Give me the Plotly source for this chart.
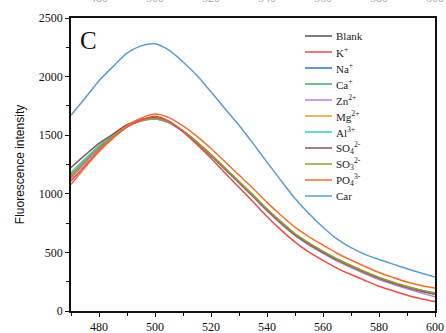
import plotly.graph_objects as go

wavelength = list(range(470, 601, 5))

blank = [1170,1290,1405,1495,1580,1628,1645,1612,1535,1440,1330,1215,1100,985,865,755,655,575,505,440,385,332,283,240,205,175,150]
k_ion = [1110,1240,1370,1475,1570,1630,1662,1620,1530,1420,1303,1178,1055,932,807,692,588,503,432,366,311,260,211,173,135,105,80]
na_ion = [1150,1280,1398,1490,1578,1625,1640,1608,1532,1436,1328,1213,1098,982,862,752,653,573,503,438,383,330,281,240,203,172,148]
ca_ion = [1140,1270,1392,1486,1575,1622,1640,1610,1535,1440,1333,1218,1102,987,867,757,656,576,505,440,384,331,282,240,203,170,142]
zn_ion = [1130,1262,1385,1482,1572,1620,1638,1606,1530,1433,1324,1208,1092,975,854,743,643,562,492,426,371,318,269,228,190,155,122]
mg_ion = [1160,1285,1402,1494,1580,1628,1645,1614,1538,1442,1334,1219,1104,989,870,760,660,580,510,444,389,336,287,246,210,178,155]
al_ion = [1180,1298,1410,1498,1582,1628,1644,1610,1533,1436,1328,1213,1098,983,863,753,653,573,503,438,383,330,281,241,205,174,150]
so4_ion = [1225,1330,1430,1510,1590,1632,1648,1612,1535,1437,1328,1213,1098,982,862,751,651,571,501,436,381,328,279,239,202,171,146]
so3_ion = [1145,1275,1395,1490,1577,1625,1642,1612,1537,1441,1334,1219,1104,989,870,760,659,579,509,444,388,335,286,246,209,178,153]
po4_ion = [1080,1225,1360,1475,1580,1645,1680,1650,1580,1490,1386,1273,1160,1047,927,817,715,633,562,493,435,380,329,287,248,218,196]
car = [1670,1815,1965,2085,2200,2262,2280,2225,2125,2010,1870,1725,1585,1430,1270,1112,960,830,715,615,540,483,440,400,360,325,290]

names = ["Blank", "K<sup>+</sup>", "Na<sup>+</sup>", "Ca<sup>+</sup>", "Zn<sup>2+</sup>", "Mg<sup>2+</sup>",
         "Al<sup>3+</sup>", "SO<sub>4</sub><sup>2-</sup>", "SO<sub>3</sub><sup>2-</sup>",
         "PO<sub>4</sub><sup>3-</sup>", "Car"]
series = [blank, k_ion, na_ion, ca_ion, zn_ion, mg_ion, al_ion, so4_ion, so3_ion, po4_ion, car]
colors = ["#505050", "#f04848", "#2f6fd0", "#45a96c", "#b383e0", "#e0a22e",
          "#35cccc", "#845656", "#989a30", "#f36e2e", "#5b9bd5"]

x_ticks = [480, 500, 520, 540, 560, 580, 600]

fig = go.Figure()
order = [0, 2, 3, 4, 5, 6, 7, 8, 1, 9, 10]
for i in order:
    fig.add_trace(go.Scatter(x=wavelength, y=series[i], mode="lines", name=names[i],
                             line=dict(color=colors[i], width=1.5, shape="spline", smoothing=0.7),
                             showlegend=False))

W, H = 446, 333
ml, mr, mt, mb = 71, 11, 18, 22
pw, ph = W - ml - mr, H - mt - mb

def px_to_paper(px, py):
    return (px - ml) / pw, (H - mb - py) / ph

shapes = []
annotations = []
for i, nm in enumerate(names):
    ypx = 36 + 16.0 * i
    x0, y0 = px_to_paper(305, ypx)
    x1, _ = px_to_paper(332, ypx)
    shapes.append(dict(type="line", xref="paper", yref="paper", x0=x0, x1=x1, y0=y0, y1=y0,
                       line=dict(color=colors[i], width=1.5)))
    tx, ty = px_to_paper(334, ypx)
    annotations.append(dict(text=nm, xref="paper", yref="paper", x=tx, y=ty, xanchor="left",
                            yanchor="middle", showarrow=False,
                            font=dict(family="Liberation Serif", size=11, color="#222")))

cx, cy = px_to_paper(88, 41)
annotations.append(dict(text="C", xref="paper", yref="paper", x=cx, y=cy, xanchor="center",
                        yanchor="middle", showarrow=False,
                        font=dict(family="Liberation Serif", size=25, color="#111")))

# faint tick labels of the panel above (cut off at the top edge, as in the source)
for t in x_ticks:
    annotations.append(dict(text=str(t), xref="x", yref="paper", x=t, y=1, yshift=11,
                            xanchor="center", yanchor="bottom", showarrow=False,
                            font=dict(family="Liberation Serif", size=12, color="#aaa")))

fig.update_layout(
    width=W, height=H,
    margin=dict(l=ml, r=mr, t=mt, b=mb, autoexpand=False),
    paper_bgcolor="white", plot_bgcolor="white",
    shapes=shapes, annotations=annotations,
    xaxis=dict(range=[470, 600], tickvals=x_ticks, showgrid=False, zeroline=False,
               automargin=False,
               showline=True, linecolor="#111", linewidth=1.5, mirror=True,
               ticks="outside", ticklen=4, tickwidth=1.2, tickcolor="#111",
               minor=dict(tickvals=[470, 490, 510, 530, 550, 570, 590], ticks="outside",
                          ticklen=3, tickwidth=1, tickcolor="#111"),
               tickfont=dict(family="Liberation Serif", size=12, color="#111")),
    yaxis=dict(range=[0, 2500], tickvals=[0, 500, 1000, 1500, 2000, 2500], showgrid=False,
               zeroline=False, showline=True, linecolor="#111", linewidth=1.5, mirror=True,
               automargin=False,
               ticks="outside", ticklen=4, tickwidth=1.2, tickcolor="#111",
               minor=dict(tickvals=[250, 750, 1250, 1750, 2250], ticks="outside",
                          ticklen=3, tickwidth=1, tickcolor="#111"),
               tickfont=dict(family="Liberation Serif", size=12, color="#111"),
               title=dict(text="Fluorescence intensity", standoff=12,
                          font=dict(family="Liberation Sans", size=12, color="#111"))),
)

fig.write_html("out.html")
